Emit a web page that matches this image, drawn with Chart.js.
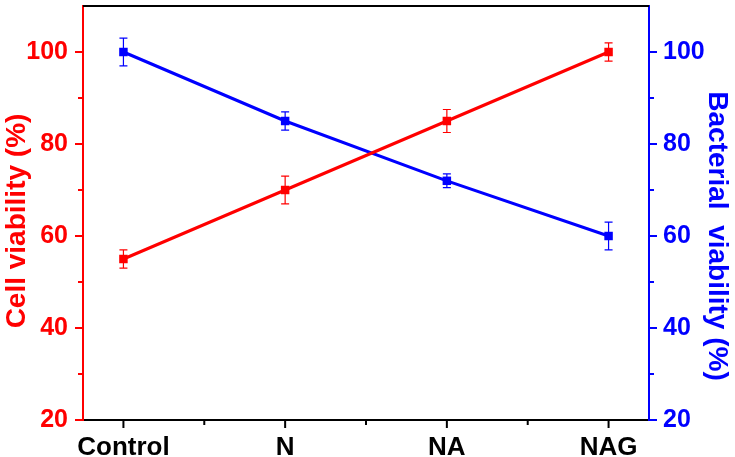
<!DOCTYPE html>
<html>
<head>
<meta charset="utf-8">
<script src="https://cdn.jsdelivr.net/npm/chart.js@4"></script>
<style>
  html, body { margin: 0; padding: 0; background: #fff; }
  #wrap { width: 735px; height: 457px; }
</style>
</head>
<body>
<div id="wrap"><canvas id="chart"></canvas></div>
<script>
const categories = ["Control", "N", "NA", "NAG"];
const cellViability = [55, 70, 85, 100];
const cellError = [2, 3, 2.5, 2];
const bacterialViability = [100, 85, 72, 60];
const bacterialError = [3, 2, 1.5, 3];
const yTicks = [20, 40, 60, 80, 100];

const RED = "#ff0000";
const BLUE = "#0000ff";
const FONT = "'Liberation Sans', Arial, sans-serif";

// error bars, tick marks, top frame and axis titles
const decorations = {
	id: "decorations",
	beforeDatasetsDraw(chart) {
		const ctx = chart.ctx;
		const xs = chart.scales.x;
		const sets = [
			[chart.scales.y, cellViability, cellError, RED],
			[chart.scales.y2, bacterialViability, bacterialError, BLUE],
		];
		ctx.save();
		ctx.lineWidth = 1.2;
		sets.forEach(([ys, vals, errs, color]) => {
			ctx.strokeStyle = color;
			vals.forEach((v, i) => {
				const px = xs.getPixelForValue(i);
				const top = ys.getPixelForValue(v + errs[i]);
				const bot = ys.getPixelForValue(v - errs[i]);
				ctx.beginPath();
				ctx.moveTo(px, top);
				ctx.lineTo(px, bot);
				ctx.moveTo(px - 4, top);
				ctx.lineTo(px + 4, top);
				ctx.moveTo(px - 4, bot);
				ctx.lineTo(px + 4, bot);
				ctx.stroke();
			});
		});
		ctx.restore();
	},
	afterDraw(chart) {
		const ctx = chart.ctx;
		const a = chart.chartArea;
		const xs = chart.scales.x;
		const yl = chart.scales.y;
		const yr = chart.scales.y2;
		ctx.save();
		ctx.lineWidth = 2;

		// top frame
		ctx.strokeStyle = "#000";
		ctx.beginPath();
		ctx.moveTo(a.left, a.top);
		ctx.lineTo(a.right, a.top);
		ctx.stroke();

		// y tick marks, major and minor
		for (let v = 20; v < 110; v += 10) {
			const len = v % 20 === 0 ? 8 : 5;
			ctx.strokeStyle = RED;
			let py = yl.getPixelForValue(v);
			ctx.beginPath();
			ctx.moveTo(a.left - len, py);
			ctx.lineTo(a.left, py);
			ctx.stroke();
			ctx.strokeStyle = BLUE;
			py = yr.getPixelForValue(v);
			ctx.beginPath();
			ctx.moveTo(a.right, py);
			ctx.lineTo(a.right + len, py);
			ctx.stroke();
		}

		// x tick marks
		ctx.strokeStyle = "#000";
		for (let v = 0; v <= 3; v += 0.5) {
			const len = Number.isInteger(v) ? 8 : 5;
			const px = xs.getPixelForValue(v);
			ctx.beginPath();
			ctx.moveTo(px, a.bottom);
			ctx.lineTo(px, a.bottom + len);
			ctx.stroke();
		}

		// axis titles
		ctx.font = "bold 28px " + FONT;
		ctx.textAlign = "center";
		ctx.textBaseline = "middle";
		ctx.fillStyle = RED;
		ctx.save();
		ctx.translate(17, 221);
		ctx.rotate(-Math.PI / 2);
		ctx.fillText("Cell viability (%)", 0, 0);
		ctx.restore();
		ctx.fillStyle = BLUE;
		ctx.save();
		ctx.translate(717, 236);
		ctx.rotate(Math.PI / 2);
		ctx.fillText("Bacterial  viability (%)", 0, 0);
		ctx.restore();

		ctx.restore();
	},
};

const toPoints = (vals) => vals.map((v, i) => ({ x: i, y: v }));

const noPad = (s) => {
	s.paddingTop = 0;
	s.paddingBottom = 0;
	s.paddingLeft = 0;
	s.paddingRight = 0;
};

new Chart(document.getElementById("chart"), {
	type: "line",
	data: {
		datasets: [
			{
				label: "Cell viability",
				data: toPoints(cellViability),
				yAxisID: "y",
				borderColor: RED,
				backgroundColor: RED,
				borderWidth: 3,
				pointStyle: "rect",
				pointRadius: 6,
				pointBorderWidth: 0,
				pointBackgroundColor: RED,
			},
			{
				label: "Bacterial viability",
				data: toPoints(bacterialViability),
				yAxisID: "y2",
				borderColor: BLUE,
				backgroundColor: BLUE,
				borderWidth: 3,
				pointStyle: "rect",
				pointRadius: 6,
				pointBorderWidth: 0,
				pointBackgroundColor: BLUE,
			},
		],
	},
	options: {
		responsive: true,
		maintainAspectRatio: false,
		animation: false,
		layout: { padding: { top: 3, left: 0, right: 0, bottom: 0 } },
		plugins: {
			legend: { display: false },
			tooltip: { enabled: false },
		},
		scales: {
			x: {
				type: "linear",
				min: -0.25,
				max: 3.25,
				afterBuildTicks: (s) => {
					s.ticks = categories.map((c, i) => ({ value: i }));
				},
				afterFit: (s) => {
					s.height = 37;
					noPad(s);
				},
				grid: { display: false, drawTicks: false },
				border: { color: "#000", width: 2 },
				ticks: {
					color: "#000",
					padding: 12,
					maxRotation: 0,
					autoSkip: false,
					font: { family: FONT, size: 26, weight: "bold" },
					callback: (v) => categories[v],
				},
			},
			y: {
				position: "left",
				min: 20,
				max: 110,
				afterBuildTicks: (s) => {
					s.ticks = yTicks.map((v) => ({ value: v }));
				},
				afterFit: (s) => {
					s.width = 83;
					noPad(s);
				},
				grid: { display: false, drawTicks: false },
				border: { color: RED, width: 2 },
				ticks: {
					color: RED,
					padding: 15,
					font: { family: FONT, size: 25, weight: "bold" },
				},
			},
			y2: {
				position: "right",
				min: 20,
				max: 110,
				afterBuildTicks: (s) => {
					s.ticks = yTicks.map((v) => ({ value: v }));
				},
				afterFit: (s) => {
					s.width = 86;
					noPad(s);
				},
				grid: { display: false, drawTicks: false },
				border: { color: BLUE, width: 2 },
				ticks: {
					color: BLUE,
					padding: 14,
					font: { family: FONT, size: 25, weight: "bold" },
				},
			},
		},
	},
	plugins: [decorations],
});
</script>
</body>
</html>
